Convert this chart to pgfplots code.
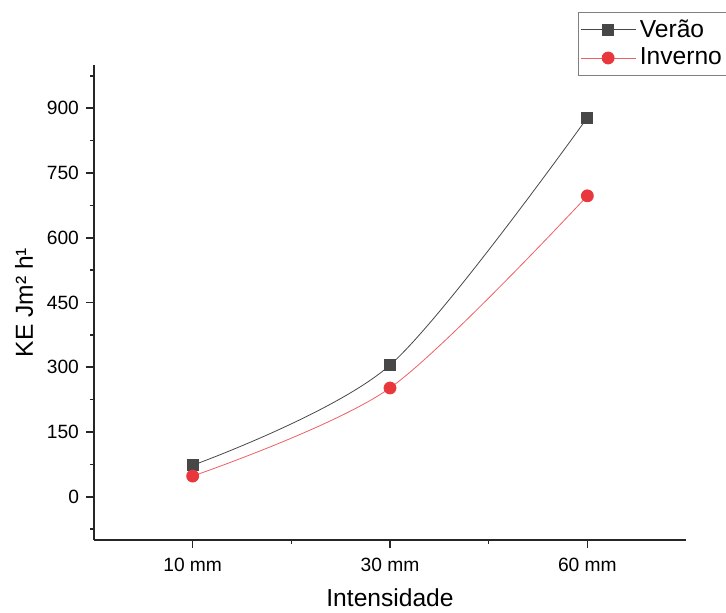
\documentclass[border=0pt]{standalone}
\usepackage{fontspec}
\setmainfont{Liberation Sans}
\usepackage{pgfplots}
\pgfplotsset{compat=1.18}

\definecolor{verao}{HTML}{474747}
\definecolor{inverno}{HTML}{E8383D}

\pgfplotstableread{
x val
0 73
1 305
2 878
}\verao
\pgfplotstableread{
x val
0 48
1 252
2 697
}\inverno

\begin{document}
\begin{tikzpicture}
\begin{axis}[
  scale only axis,
  width=296pt,
  height=237.5pt,
  xmin=-0.5, xmax=2.5,
  ymin=-100, ymax=1000,
  axis x line*=bottom,
  axis y line*=left,
  axis line style={-, line width=1pt, black!85},
  xtick={0,1,2},
  xticklabels={10 mm,30 mm,60 mm},
  minor xtick={0.5,1.5},
  ytick={0,150,...,900},
  minor ytick={-75,75,225,...,975},
  tick align=outside,
  major tick length=4pt,
  minor tick length=2pt,
  tick style={line width=0.8pt, black!85},
  /pgf/number format/assume math mode=true,
  ticklabel style={font=\fontsize{9.6}{11}\selectfont},
  xticklabel style={yshift=-1.5pt},
  xlabel={Intensidade},
  ylabel={KE Jm² h¹},
  label style={font=\fontsize{12.3}{14}\selectfont},
  xlabel style={yshift=-1.5pt},
  legend style={at={(0.8176,1.1116)}, anchor=north west,
    draw=black!50, font=\fontsize{12.3}{16}\selectfont,
    inner xsep=1pt, inner ysep=1.5pt, row sep=0pt},
  legend cell align=left,
  legend image code/.code={\draw[mark repeat=2,mark phase=2,#1]
    plot coordinates {(0cm,0cm) (0.48cm,0cm) (0.96cm,0cm)};},
]
\addplot[verao, line width=0.4pt, smooth, mark=square*, mark size=2.75pt,
  mark options={solid, fill=verao, draw=verao}] table[x=x, y=val] {\verao};
\addlegendentry{Verão}
\addplot[inverno!80, line width=0.4pt, smooth, mark=*, mark size=3pt,
  mark options={solid, fill=inverno, draw=inverno}] table[x=x, y=val] {\inverno};
\addlegendentry{Inverno}
\end{axis}
\pgfresetboundingbox
\path[use as bounding box] (current axis.south west) ++(-47pt,-36.5pt) rectangle ++(363pt,306.5pt);
\end{tikzpicture}
\end{document}
